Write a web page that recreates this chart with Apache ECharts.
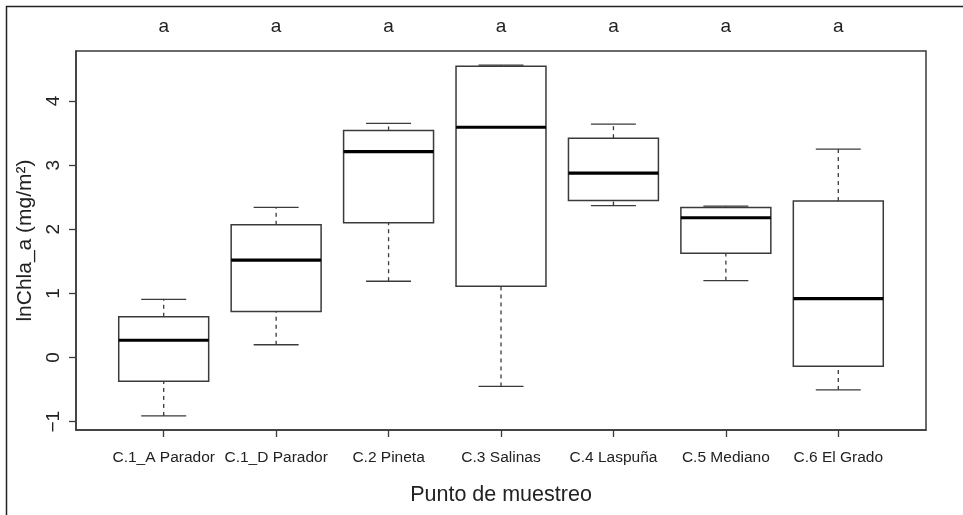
<!DOCTYPE html>
<html>
<head>
<meta charset="utf-8">
<script src="https://cdn.jsdelivr.net/npm/echarts@6/dist/echarts.min.js"></script>
<style>
html,body{margin:0;padding:0;background:#fff;}
#chart{width:963px;height:515px;}
</style>
</head>
<body>
<div id="chart"></div>
<script>
var categories = ['C.1_A Parador', 'C.1_D Parador', 'C.2 Pineta', 'C.3 Salinas', 'C.4 Laspuña', 'C.5 Mediano', 'C.6 El Grado'];
var whiskerLow  = [-0.91, 0.20, 1.19, -0.45, 2.37, 1.20, -0.505];
var q1          = [-0.37, 0.72, 2.10, 1.11, 2.45, 1.625, -0.135];
var medians     = [0.27, 1.52, 3.21, 3.59, 2.875, 2.18, 0.92];
var q3          = [0.636, 2.07, 3.54, 4.54, 3.42, 2.34, 2.44];
var whiskerHigh = [0.906, 2.34, 3.65, 4.56, 3.64, 2.36, 3.25];
var letters     = ['a', 'a', 'a', 'a', 'a', 'a', 'a'];
var yTicks      = [-1, 0, 1, 2, 3, 4];
var xTicks      = [1, 2, 3, 4, 5, 6, 7];

var FONT = '"Liberation Sans", Arial, Helvetica, sans-serif';
var INK = '#3a3a3a';

var boxData = categories.map(function (c, i) {
  return [i + 1, whiskerLow[i], q1[i], medians[i], q3[i], whiskerHigh[i]];
});
var letterData = categories.map(function (c, i) { return [i + 1, 4.779]; });

function renderBox(params, api) {
  var x = api.value(0);
  var lo = api.value(1), a = api.value(2), m = api.value(3), b = api.value(4), hi = api.value(5);
  var hw = 0.4, cw = 0.2;
  var pLo = api.coord([x, lo]), pA = api.coord([x, a]), pB = api.coord([x, b]), pHi = api.coord([x, hi]);
  var left = api.coord([x - hw, a])[0], right = api.coord([x + hw, a])[0];
  var cl = api.coord([x - cw, a])[0], cr = api.coord([x + cw, a])[0];
  var pM = api.coord([x, m]);
  var dash = {stroke: INK, lineWidth: 1.3, lineDash: [4, 4]};
  var solid = {stroke: INK, lineWidth: 1.3};
  return {
    type: 'group',
    children: [
      {type: 'line', shape: {x1: pLo[0], y1: pLo[1], x2: pA[0], y2: pA[1]}, style: dash},
      {type: 'line', shape: {x1: pB[0], y1: pB[1], x2: pHi[0], y2: pHi[1]}, style: dash},
      {type: 'line', shape: {x1: cl, y1: pLo[1], x2: cr, y2: pLo[1]}, style: solid},
      {type: 'line', shape: {x1: cl, y1: pHi[1], x2: cr, y2: pHi[1]}, style: solid},
      {type: 'rect', shape: {x: left, y: pB[1], width: right - left, height: pA[1] - pB[1]},
        style: {fill: '#fff', stroke: INK, lineWidth: 1.5}},
      {type: 'line', shape: {x1: left, y1: pM[1], x2: right, y2: pM[1]}, style: {stroke: '#000', lineWidth: 3.2}}
    ]
  };
}

function renderLetter(params, api) {
  var p = api.coord([api.value(0), api.value(1)]);
  return {
    type: 'text',
    x: p[0], y: p[1] - 24,
    style: {text: letters[params.dataIndex], fill: '#222', font: '19px ' + FONT, align: 'center', verticalAlign: 'middle'}
  };
}

var chart = echarts.init(document.getElementById('chart'), null, {renderer: 'canvas'});
chart.setOption({
  animation: false,
  backgroundColor: '#fff',
  textStyle: {fontFamily: FONT},
  graphic: [{
    type: 'rect', left: 4, top: 4, silent: true,
    shape: {x: 0, y: 0, width: 1200, height: 800},
    style: {fill: 'none', stroke: '#222', lineWidth: 1.5}
  }],
  grid: {left: 76, top: 51, right: 37, bottom: 85, show: true, borderColor: INK, borderWidth: 1.5, backgroundColor: 'transparent'},
  xAxis: {
    type: 'value', min: 0.22, max: 7.78,
    splitLine: {show: false},
    axisLine: {show: true, onZero: false, lineStyle: {color: INK, width: 1.5}},
    axisTick: {show: true, customValues: xTicks, length: 7, lineStyle: {color: INK, width: 1.3}},
    axisLabel: {customValues: xTicks, fontSize: 15.5, color: '#222', margin: 20, fontFamily: FONT,
      formatter: function (v) { return categories[Math.round(v) - 1]; }},
    name: 'Punto de muestreo', nameLocation: 'middle', nameGap: 54,
    nameTextStyle: {fontSize: 21.5, color: '#222', fontFamily: FONT}
  },
  yAxis: {
    type: 'value', min: -1.129, max: 4.779,
    splitLine: {show: false},
    axisLine: {show: true, onZero: false, lineStyle: {color: INK, width: 1.5}},
    axisTick: {show: true, customValues: yTicks, length: 7, lineStyle: {color: INK, width: 1.3}},
    axisLabel: {customValues: yTicks, fontSize: 19, color: '#222', rotate: 90, margin: 13, fontFamily: FONT,
      formatter: function (v) { return v < 0 ? '\u2212' + Math.abs(v) : String(v); }},
    name: 'lnChla_a (mg/m\u00b2)', nameLocation: 'middle', nameGap: 40,
    nameTextStyle: {fontSize: 21, color: '#222', fontFamily: FONT}
  },
  series: [
    {type: 'custom', renderItem: renderBox, data: boxData, clip: false, encode: {x: 0, y: [1, 2, 3, 4, 5]}},
    {type: 'custom', renderItem: renderLetter, data: letterData, clip: false, encode: {x: 0, y: 1}}
  ]
});
</script>
</body>
</html>
